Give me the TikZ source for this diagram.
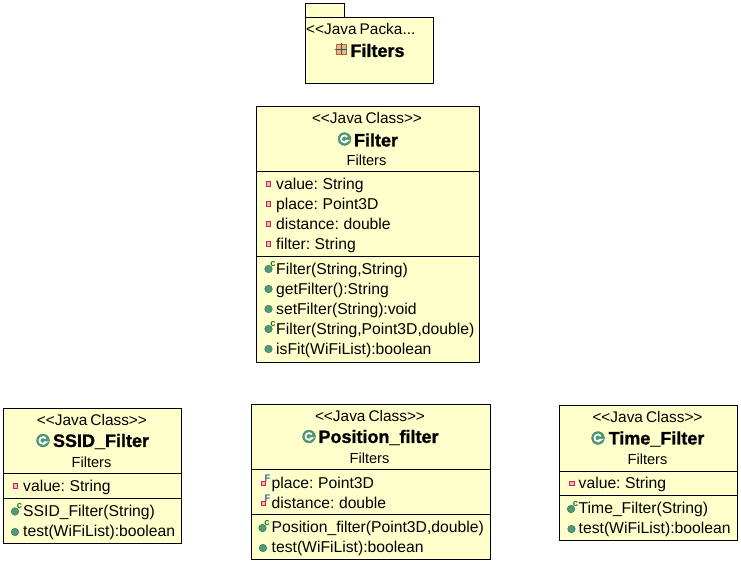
\documentclass[tikz,border=0pt]{standalone}
\usepackage{fontspec}
\setmainfont[WordSpace=0.7]{Liberation Sans}
\newfontface\namefont[FakeBold=1.2]{Liberation Sans Bold}
\definecolor{boxyellow}{HTML}{FFFFCB}
\definecolor{icongreen}{HTML}{4F9A76}
\definecolor{iconred}{HTML}{C8284A}
\definecolor{iconblue}{HTML}{3A62B0}
\definecolor{ctorgreen}{HTML}{1F7A20}
\definecolor{pkgorange}{HTML}{C06A20}
\definecolor{pkgfill}{HTML}{E0B890}
\tikzset{
  box/.style={draw=black, fill=boxyellow, line width=1pt},
  member/.style={anchor=base west, inner sep=0pt, font=\fontsize{15.7}{17}\selectfont},
  stereo/.style={inner sep=0pt, font=\fontsize{15.4}{17}\selectfont},
  pkglabel/.style={inner sep=0pt, font=\fontsize{14.6}{17}\selectfont},
  classname/.style={inner sep=0pt, font=\fontsize{18}{20}\namefont},
  tinyletter/.style={inner sep=0pt, font=\fontsize{9.5}{9}\selectfont\bfseries},
}
% small icons in front of the members
\newcommand{\fieldicon}[2]{
  \filldraw[draw=iconred, fill=iconred!35, line width=1pt] (#1-2.2,#2-2.2) rectangle (#1+2.2,#2+2.2);
}
\newcommand{\methodicon}[2]{
  \filldraw[draw=icongreen!70!black, fill=icongreen] (#1,#2) circle (3.8);
}
\newcommand{\ctoricon}[2]{
  \methodicon{#1}{#2}
  \node[tinyletter, text=ctorgreen] (ctor#2) at (#1+4.5,#2-5.5) {c};
}
\newcommand{\finalicon}[2]{
  \fieldicon{#1}{#2}
  \node[tinyletter, text=iconblue] (final#2) at (#1+4,#2-5.5) {F};
}
\newcommand{\classicon}[2]{
  \filldraw[draw=icongreen!80!black, fill=icongreen] (#1,#2) circle (6.4);
  \draw[white, line width=1.7pt] (#1+2.8,#2-2.05) arc (-36:-330:3.5) -- ++(-2.4,0);
}
\begin{document}
\begin{tikzpicture}[x=1pt, y=-1pt]
  \useasboundingbox (0,0) rectangle (741,563);
  % Package
  \draw[box] (305,3) rectangle (344,17);
  \draw[box] (305,17) rectangle (433,83);
  \node[stereo, anchor=west] (pkgstereo) at (306,29) {<{}<Java Packa...};
  \node[classname] (pkgname) at (377.5,50.5) {Filters};
  \filldraw[draw=pkgorange, fill=pkgfill, line width=1pt] (336,44) rectangle (346,54);
  \draw[black!70, line width=0.4pt] (335,49) -- (347,49) (341,43) -- (341,55);
  % Filter class
  \draw[box] (256,106) rectangle (479,362);
  \draw[line width=1pt] (256,171) -- (479,171);
  \draw[line width=1pt] (256,256) -- (479,256);
  \node[stereo] (filterstereo) at (367,118) {<{}<Java Class>{}>};
  \node[classname] (filtername) at (376,140) {Filter};
  \node[pkglabel] (filterpkg) at (366.5,160) {Filters};
  \classicon{344.5}{139}
  \foreach \y/\txt in {189/{value: String}, 209/{place: Point3D}, 229/{distance: double}, 249/{filter: String}}{
    \node[member] (filterfield\y) at (276,\y) {\txt};
    \fieldicon{268.5}{\y-5}
  }
  \foreach \y/\txt in {294/{getFilter():String}, 314/{setFilter(String):void}, 354/{isFit(WiFiList):boolean}}{
    \node[member] (filtermethod\y) at (276,\y) {\txt};
    \methodicon{268.5}{\y-5}
  }
  \foreach \y/\txt in {274/{Filter(String,String)}, 334/{Filter(String,Point3D,double)}}{
    \node[member] (filterctor\y) at (276,\y) {\txt};
    \ctoricon{268.5}{\y-5}
  }
  % SSID_Filter class
  \draw[box] (3,408) rectangle (181,543);
  \draw[line width=1pt] (3,473) -- (181,473);
  \draw[line width=1pt] (3,498) -- (181,498);
  \node[stereo] (ssidstereo) at (92,420) {<{}<Java Class>{}>};
  \node[classname] (ssidname) at (101,441.5) {SSID\_Filter};
  \node[pkglabel] (ssidpkg) at (91.5,462) {Filters};
  \classicon{43}{440.5}
  \fieldicon{15.5}{486}
  \node[member] (ssidfield) at (23,491) {value: String};
  \ctoricon{15}{511.5}
  \node[member] (ssidctor) at (23,516.5) {SSID\_Filter(String)};
  \methodicon{15}{532}
  \node[member] (ssidmethod) at (23,536.5) {test(WiFiList):boolean};
  % Position_filter class
  \draw[box] (251.5,404) rectangle (490,559);
  \draw[line width=1pt] (251.5,469) -- (490,469);
  \draw[line width=1pt] (251.5,514) -- (490,514);
  \node[stereo] (posstereo) at (370,416) {<{}<Java Class>{}>};
  \node[classname] (posname) at (378.5,437.5) {Position\_filter};
  \node[pkglabel] (pospkg) at (369.5,458) {Filters};
  \classicon{309}{436.5}
  \finalicon{263.5}{483.5}
  \node[member] (posfield1) at (271.5,488) {place: Point3D};
  \finalicon{263.5}{503.5}
  \node[member] (posfield2) at (271.5,508) {distance: double};
  \ctoricon{262.5}{528}
  \node[member] (posctor) at (271.5,532.5) {Position\_filter(Point3D,double)};
  \methodicon{263}{548}
  \node[member] (posmethod) at (271.5,552.5) {test(WiFiList):boolean};
  % Time_Filter class
  \draw[box] (559,405) rectangle (737,540);
  \draw[line width=1pt] (559,471) -- (737,471);
  \draw[line width=1pt] (559,495) -- (737,495);
  \node[stereo] (timestereo) at (647.5,417) {<{}<Java Class>{}>};
  \node[classname] (timename) at (656.5,439) {Time\_Filter};
  \node[pkglabel] (timepkg) at (647.5,459) {Filters};
  \classicon{598}{438}
  \fieldicon{572}{483.5}
  \node[member] (timefield) at (578.5,488) {value: String};
  \ctoricon{571}{509}
  \node[member] (timector) at (578.5,513.5) {Time\_Filter(String)};
  \methodicon{571.5}{529}
  \node[member] (timemethod) at (578.5,533.5) {test(WiFiList):boolean};
\end{tikzpicture}
\end{document}
